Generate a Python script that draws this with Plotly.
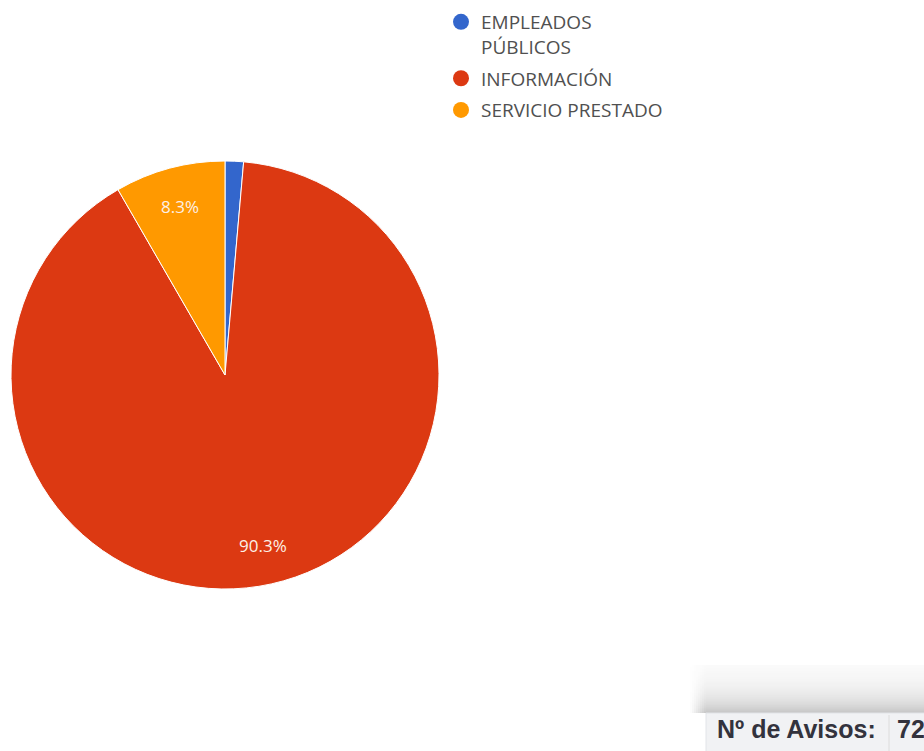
import math
import plotly.graph_objects as go

# Complaint categories and counts
categories = ["EMPLEADOS PÚBLICOS", "INFORMACIÓN", "SERVICIO PRESTADO"]
legend_labels = ["EMPLEADOS<br>PÚBLICOS", "INFORMACIÓN", "SERVICIO PRESTADO"]
counts = [1, 65, 6]
colors = ["#3366cc", "#dc3912", "#ff9900"]
total_label = "Nº de Avisos:"

W, H = 924, 751
total = sum(counts)

# pie placement in pixels
cx, cy, R = 225, 375, 214
dom_x = [(cx - R) / W, (cx + R) / W]
dom_y = [1 - (cy + R) / H, 1 - (cy - R) / H]

fig = go.Figure()
fig.add_trace(go.Pie(
    labels=categories, values=counts, sort=False, direction="clockwise",
    rotation=0, marker=dict(colors=colors, line=dict(color="white", width=1)),
    textinfo="none", showlegend=False, domain=dict(x=dom_x, y=dom_y),
    hovertemplate="%{label}<br>%{value} (%{percent:.1%})<extra></extra>",
))

# legend entries with round markers
for lab, col in zip(legend_labels, colors):
    fig.add_trace(go.Scatter(
        x=[None], y=[None], mode="markers", name=lab, legendgroup=lab,
        marker=dict(color=col, size=18, symbol="circle"), hoverinfo="skip",
    ))

annotations = []
# percentage labels placed along each slice's mid-angle
start = 0.0
for v in counts:
    frac = v / total
    mid = (start + frac / 2) * 2 * math.pi
    start += frac
    if frac < 0.05:
        continue
    r = 0.815 * R
    px = cx + r * math.sin(mid)
    py = cy - r * math.cos(mid)
    annotations.append(dict(
        x=px / W, y=1 - py / H, xref="paper", yref="paper",
        text=f"{frac * 100:.1f}%", showarrow=False,
        font=dict(family="Open Sans, sans-serif", size=17, color="#fdf0e6"),
        xanchor="center", yanchor="middle",
    ))

# total count box
box_font = dict(family="Liberation Sans, Arial", size=25, color="#33333d")
annotations.append(dict(
    x=715 / W, y=1 - 729 / H, xref="paper", yref="paper", text=f"<b>{total_label}</b>",
    showarrow=False, xanchor="left", yanchor="middle", font=box_font,
))
annotations.append(dict(
    x=895 / W, y=1 - 729 / H, xref="paper", yref="paper", text=f"<b>{total}</b>",
    showarrow=False, xanchor="left", yanchor="middle", font=box_font,
))

shapes = []
# soft shadow above the box, fading upward and toward the left
box_top, box_left = 713, 706
for j in range(48):
    d = j + 1
    a = 0.28 * math.exp(-d / 19)
    y1p = box_top - j
    y0p = y1p - 1
    common = dict(type="rect", xref="paper", yref="paper", layer="below",
                  line=dict(width=0), y0=1 - y1p / H, y1=1 - y0p / H)
    shapes.append(dict(common, x0=box_left / W, x1=1.02,
                       fillcolor=f"rgba(40,40,40,{a:.3f})"))
    for k in range(8):
        xa = box_left - 2 * (k + 1)
        f = 1 - (k + 0.5) / 8
        shapes.append(dict(common, x0=xa / W, x1=(xa + 2) / W,
                           fillcolor=f"rgba(40,40,40,{a * f:.3f})"))
shapes.append(dict(
    type="rect", xref="paper", yref="paper", x0=box_left / W, x1=1.02,
    y0=-0.02, y1=1 - box_top / H, line=dict(color="#e2e4e8", width=1),
    fillcolor="#f1f2f4",
))
shapes.append(dict(
    type="line", xref="paper", yref="paper", x0=889 / W, x1=889 / W,
    y0=0, y1=1 - 715 / H, line=dict(color="#dcdcdc", width=1),
))

fig.update_layout(
    width=W, height=H, margin=dict(l=0, r=0, t=0, b=0),
    paper_bgcolor="white", plot_bgcolor="white",
    xaxis=dict(visible=False, domain=[0.9, 0.91]), yaxis=dict(visible=False, domain=[0.9, 0.91]),
    legend=dict(
        x=441 / W, y=1 - 3 / H, xanchor="left", yanchor="top",
        font=dict(family="Open Sans, sans-serif", size=19, color="#505050"),
        valign="top", tracegroupgap=4, bgcolor="rgba(0,0,0,0)",
    ),
    annotations=annotations, shapes=shapes,
)

fig.write_html("out.html")
